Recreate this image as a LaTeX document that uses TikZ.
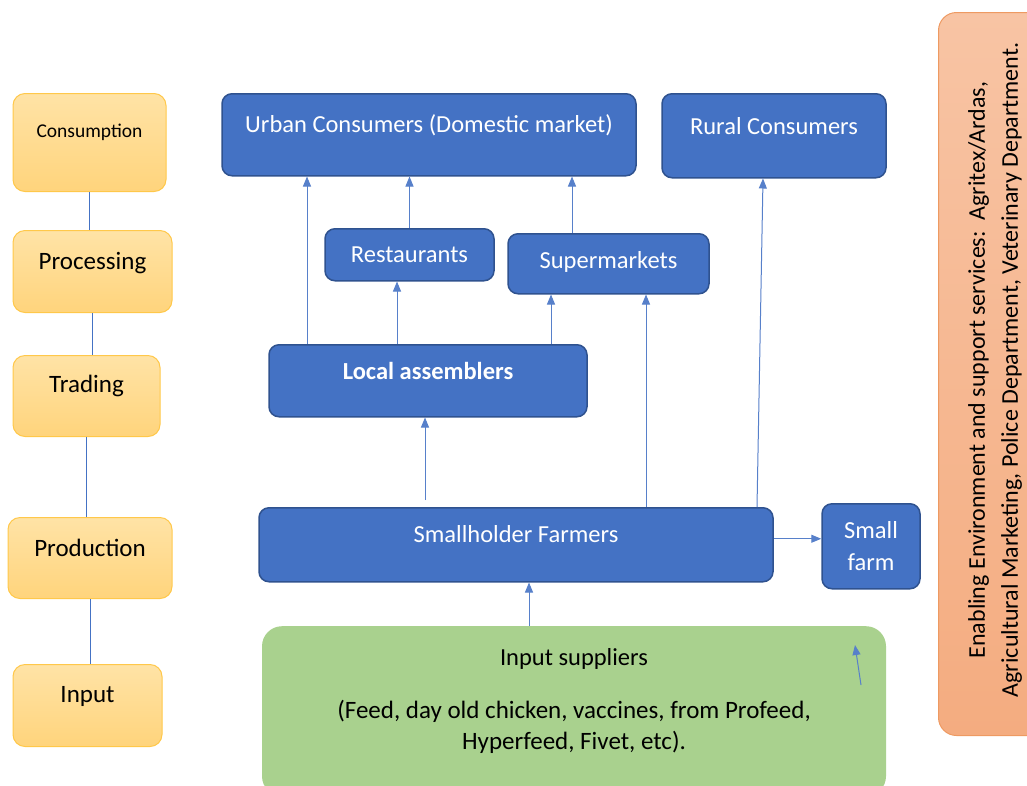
\documentclass[tikz,border=0pt]{standalone}
\usepackage{fontspec}
\setmainfont{Carlito}
\usetikzlibrary{arrows.meta}

\definecolor{actorblue}{HTML}{4472C4}
\definecolor{actoredge}{HTML}{2F528F}
\definecolor{stagetop}{HTML}{FFE3A6}
\definecolor{stagebot}{HTML}{FFD47C}
\definecolor{stageedge}{HTML}{FFC84A}
\definecolor{supplygreen}{HTML}{A9D18E}
\definecolor{envtop}{HTML}{F8C4A4}
\definecolor{envbot}{HTML}{F4AC80}
\definecolor{envedge}{HTML}{EE9A62}

\begin{document}
\begin{tikzpicture}[x=1pt,y=-1pt,
		stage/.style={draw=stageedge, line width=1pt, rounded corners=12pt,
			top color=stagetop, bottom color=stagebot, inner sep=0pt, anchor=north,
			font=\fontsize{25}{30}\selectfont, text height=38pt, text depth=44pt},
		actor/.style={draw=actoredge, line width=1.5pt, fill=actorblue, rounded corners=10pt,
			text=white, inner sep=0pt, anchor=north, font=\fontsize{24.5}{29}\selectfont},
		flow/.style={draw=actorblue!90!white, line width=1pt, -{Triangle[length=10pt,width=8pt]}},
		stageline/.style={draw=actorblue, line width=1pt}]
		\useasboundingbox (0,0) rectangle (1027,785);
		
		% stages of the chain
		\node[stage, minimum width=153pt, text height=44pt, text depth=54pt,
			font=\fontsize{19.5}{23}\selectfont] (cons) at (89.5,93) {Consumption};
		\node[stage, minimum width=159pt, text height=39pt, text depth=43pt] (proc) at (92.5,230) {Processing};
		\node[stage, minimum width=147pt, text height=37pt, text depth=44pt] (trad) at (86.5,355) {Trading};
		\node[stage, minimum width=164pt, text height=39pt, text depth=42pt] (prod) at (90,517) {Production};
		\node[stage, minimum width=149pt, text height=38pt, text depth=44pt] (inpt) at (87.5,664) {Input};
		\foreach \a/\b in {cons/proc,proc/trad,trad/prod,prod/inpt}
		\draw[stageline] (\a.south) -- (\a.south |- \b.north);
		
		% actors
		\node[actor, minimum width=414pt, text height=39pt, text depth=43pt] (urban) at (429,93) {Urban Consumers (Domestic market)};
		\node[actor, minimum width=224pt, text height=41pt, text depth=43pt] (rural) at (774,93) {Rural Consumers};
		\node[actor, minimum width=169pt, text height=34pt, text depth=18pt] (rest) at (409.5,228) {Restaurants};
		\node[actor, minimum width=201pt, text height=35pt, text depth=25pt] (sup) at (608.5,233) {Supermarkets};
		\node[actor, minimum width=318pt, text height=35pt, text depth=37pt] (la) at (428,344) {\textbf{Local assemblers}};
		\node[actor, minimum width=514pt, text height=35pt, text depth=39pt] (sh) at (516,507) {Smallholder Farmers};
		\node[actor, minimum width=98pt, minimum height=85pt, align=center,
			font=\fontsize{24.5}{32}\selectfont] (sf) at (871,503) {Small\\farm};
		
		% input suppliers
		\node[fill=supplygreen, rounded corners=20pt, minimum width=624pt, minimum height=170pt,
			anchor=north] (inp) at (574,626) {};
		\node[font=\fontsize{24.5}{29}\selectfont] (inptitle) at (574,659) {Input suppliers};
		\node[font=\fontsize{25}{31}\selectfont, align=center] (inpdetail) at (574,727)
		{(Feed, day old chicken, vaccines, from Profeed,\\Hyperfeed, Fivet, etc).};
		\coordinate (tick0) at (861,685);
		\coordinate (tick1) at (855,645);
		
		% enabling environment
		\node[draw=envedge, line width=1pt, top color=envtop, bottom color=envbot, rounded corners=18pt,
			minimum width=110pt, minimum height=723pt, anchor=north west] (env) at (938,12) {};
		\node[rotate=90, align=center, font=\fontsize{24}{33}\selectfont] (envtext) at (995,370)
		{Enabling Environment and support services:\ \ Agritex/Ardas,\\
			Agricultural Marketing, Police Department, Veterinary Department.};
		
		% flows
		\draw[flow] ([xshift=-121pt]la.north) -- ([xshift=-121pt]la.north |- urban.south);
		\draw[flow] ([xshift=-31pt]la.north) -- ([xshift=-31pt]la.north |- rest.south);
		\draw[flow] ([xshift=123pt]la.north) -- ([xshift=123pt]la.north |- sup.south);
		\draw[flow] (rest.north) -- (rest.north |- urban.south);
		\draw[flow] ([xshift=-36.5pt]sup.north) -- ([xshift=-36.5pt]sup.north |- urban.south);
		\draw[flow] ([xshift=-91pt,yshift=7pt]sh.north) -- ([xshift=-91pt]sh.north |- la.south);
		\draw[flow] ([xshift=130pt]sh.north) -- ([xshift=130pt]sh.north |- sup.south);
		\draw[flow] ([xshift=241pt]sh.north) -- ([xshift=-11pt]rural.south);
		\draw[flow] ([yshift=6pt]sh.east) -- ([yshift=6pt]sh.east -| sf.west);
		\draw[flow] ([xshift=-45pt]inp.north) -- ([xshift=-45pt]inp.north |- sh.south);
		\draw[flow] (tick0) -- (tick1);
\end{tikzpicture}
\end{document}
